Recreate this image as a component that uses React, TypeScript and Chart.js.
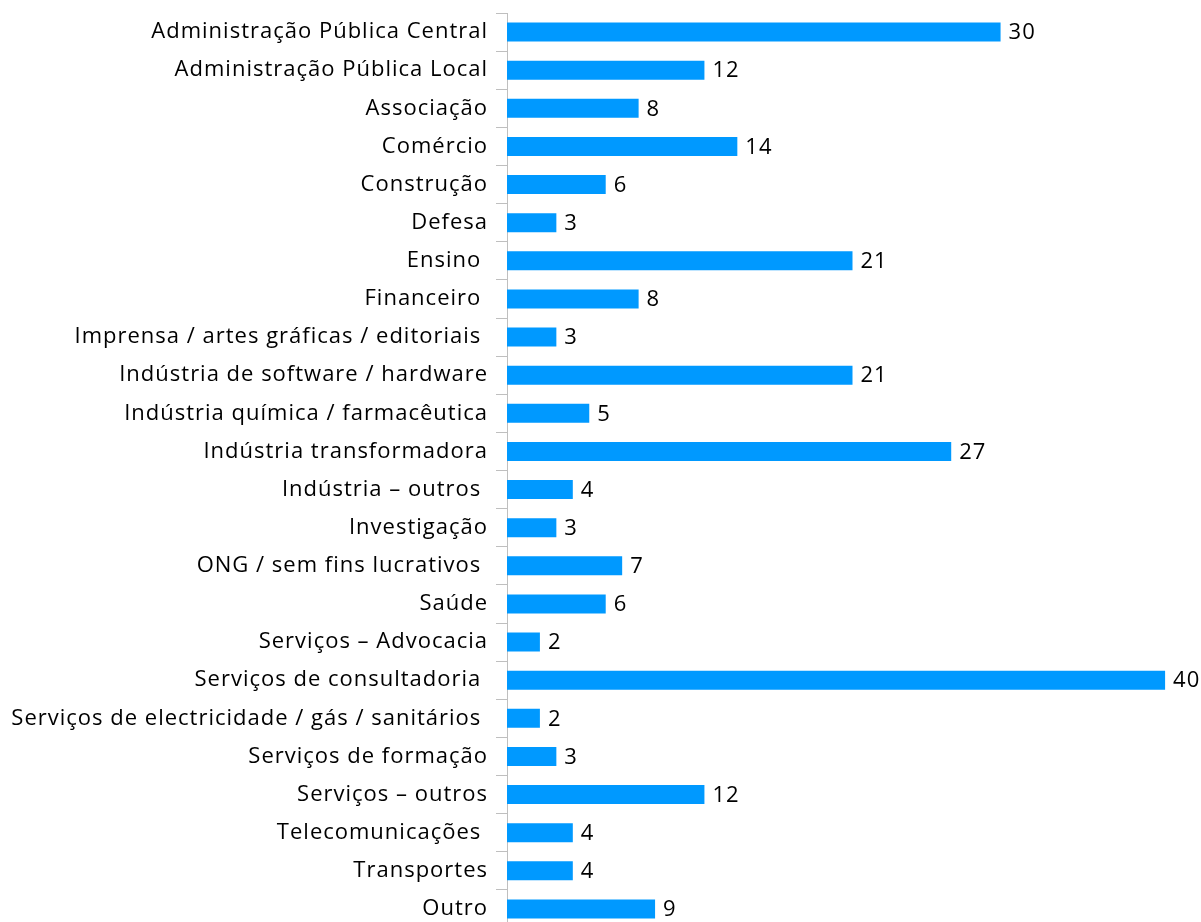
import React, { useEffect, useRef } from "react";
import { Chart, registerables } from "chart.js";

Chart.register(...registerables);

const categories: string[] = [
  "Administração Pública Central",
  "Administração Pública Local",
  "Associação",
  "Comércio",
  "Construção",
  "Defesa",
  "Ensino ",
  "Financeiro ",
  "Imprensa / artes gráficas / editoriais ",
  "Indústria de software / hardware",
  "Indústria química / farmacêutica",
  "Indústria transformadora",
  "Indústria – outros ",
  "Investigação",
  "ONG / sem fins lucrativos ",
  "Saúde",
  "Serviços – Advocacia",
  "Serviços de consultadoria ",
  "Serviços de electricidade / gás / sanitários ",
  "Serviços de formação",
  "Serviços – outros",
  "Telecomunicações ",
  "Transportes",
  "Outro",
];

const values: number[] = [30, 12, 8, 14, 6, 3, 21, 8, 3, 21, 5, 27, 4, 3, 7, 6, 2, 40, 2, 3, 12, 4, 4, 9];

const FONT_FAMILY = "'Open Sans', 'Noto Sans', sans-serif";
const FONT_SIZE = 22;

const spacing = {
  id: "spacing",
  beforeDraw(chart: any) {
    chart.ctx.letterSpacing = "1px";
  },
};

const valueLabels = {
  id: "valueLabels",
  afterDatasetsDraw(chart: any) {
    const ctx = chart.ctx;
    const meta = chart.getDatasetMeta(0);
    ctx.save();
    ctx.letterSpacing = "1px";
    ctx.font = `${FONT_SIZE}px ${FONT_FAMILY}`;
    ctx.fillStyle = "#000000";
    ctx.textAlign = "left";
    ctx.textBaseline = "middle";
    meta.data.forEach((bar: any, i: number) => {
      ctx.fillText(String(values[i]), bar.x + 8, bar.y + 1);
    });
    ctx.restore();
  },
};

export default function App() {
  const ref = useRef<HTMLCanvasElement | null>(null);

  useEffect(() => {
    if (!ref.current) return;
    const chart = new Chart(ref.current, {
      type: "bar",
      data: {
        labels: categories,
        datasets: [
          {
            data: values,
            backgroundColor: "#0099FF",
            borderWidth: 0,
            categoryPercentage: 0.5,
            barPercentage: 1,
          },
        ],
      },
      options: {
        indexAxis: "y",
        responsive: false,
        animation: false,
        layout: { padding: { top: 13, right: 3, bottom: 1, left: 0 } },
        plugins: { legend: { display: false }, tooltip: { enabled: false } },
        scales: {
          x: { display: false, min: 0, max: 42 },
          y: {
            afterFit(scale: any) {
              scale.width = 507;
              scale.paddingTop = 0;
              scale.paddingBottom = 0;
            },
            border: { display: true, color: "#BFBFBF", width: 1 },
            grid: {
              offset: true,
              drawOnChartArea: false,
              drawTicks: true,
              tickLength: 11,
              color: "#BFBFBF",
            },
            ticks: {
              color: "#000000",
              padding: 8,
              autoSkip: false,
              font: { family: FONT_FAMILY, size: FONT_SIZE },
            },
          },
        },
      },
      plugins: [spacing, valueLabels],
    });
    return () => chart.destroy();
  }, []);

  return (
    <div style={{ position: "fixed", left: 0, top: 0, width: 1201, height: 922, overflow: "hidden", background: "#fff" }}>
      <canvas ref={ref} width={1201} height={929} style={{ display: "block" }} />
    </div>
  );
}
